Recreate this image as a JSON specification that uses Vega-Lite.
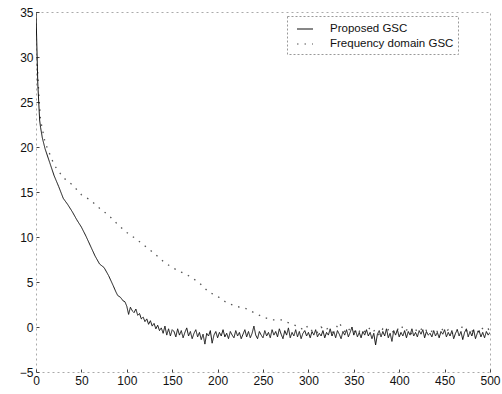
{
  "$schema": "https://vega.github.io/schema/vega-lite/v6.json",
  "width": 454,
  "height": 360,
  "autosize": "none",
  "padding": {"left": 36, "top": 12, "right": 12, "bottom": 22},
  "background": "white",
  "config": {
    "font": "Liberation Sans",
    "view": {"stroke": "#aaaaaa", "strokeDash": [2, 3], "strokeWidth": 1},
    "axis": {"grid": false, "domain": false, "labelFont": "Liberation Sans", "labelFontSize": 12, "labelColor": "#111", "tickColor": "#444", "title": null},
    "legend": {"strokeDash": [2, 2], "strokeColor": "#999999"}
  },
  "datasets": {
    "prop": [
      {"x":0,"y":35},{"x":1,"y":31},{"x":2,"y":27},{"x":3,"y":25},{"x":4,"y":23},{"x":5,"y":22.2},{"x":7,"y":21},{"x":10,"y":19.8},{"x":15,"y":18.3},{"x":20,"y":16.8},{"x":25,"y":15.6},{"x":30,"y":14.3},{"x":35,"y":13.6},{"x":40,"y":12.8},{"x":45,"y":11.9},{"x":50,"y":11.1},{"x":55,"y":10.1},{"x":60,"y":9.0},{"x":65,"y":7.9},{"x":70,"y":7.0},{"x":75,"y":6.6},{"x":80,"y":5.7},{"x":85,"y":4.6},{"x":88,"y":3.9},{"x":90,"y":3.5},{"x":93,"y":3.3},{"x":96,"y":2.9},{"x":98,"y":2.8},{"x":100,"y":2.3},{"x":102,"y":1.4},{"x":104,"y":2.2},{"x":106,"y":1.8},{"x":108,"y":1.6},{"x":110,"y":2.0},{"x":112,"y":1.3},{"x":114,"y":1.5},{"x":116,"y":0.9},{"x":118,"y":1.1},{"x":120,"y":0.6},{"x":122,"y":0.9},{"x":124,"y":0.3},{"x":126,"y":0.7},{"x":128,"y":0.1},{"x":130,"y":0.4},{"x":132,"y":-0.2},{"x":134,"y":0.2},{"x":136,"y":-0.4},{"x":138,"y":-0.1},{"x":140,"y":-0.7},{"x":142,"y":0.1},{"x":144,"y":-0.9},{"x":146,"y":-0.2},{"x":148,"y":-1.0},{"x":150,"y":-0.3},
      {"x":152,"y":-0.5},{"x":154,"y":-1.1},{"x":156,"y":-0.2},{"x":158,"y":-0.9},{"x":160,"y":-0.4},{"x":162,"y":-1.2},{"x":164,"y":-0.6},{"x":166,"y":-0.1},{"x":168,"y":-1.0},{"x":170,"y":-0.5},{"x":172,"y":-1.3},{"x":174,"y":-0.7},{"x":176,"y":-0.3},{"x":178,"y":-1.1},{"x":180,"y":-0.6},{"x":182,"y":-1.4},{"x":184,"y":-0.8},{"x":186,"y":-1.9},{"x":188,"y":-0.7},{"x":190,"y":-1.0},{"x":192,"y":-0.4},{"x":194,"y":-1.8},{"x":196,"y":-0.9},{"x":198,"y":-0.5},{"x":200,"y":-1.2},{"x":202,"y":-0.6},{"x":204,"y":-1.0},{"x":206,"y":-0.3},{"x":208,"y":-1.1},{"x":210,"y":-0.7},{"x":212,"y":-1.3},{"x":214,"y":-0.5},{"x":216,"y":-0.9},{"x":218,"y":-1.2},{"x":220,"y":-0.4},{"x":222,"y":-1.0},{"x":224,"y":-0.6},{"x":226,"y":-1.3},{"x":228,"y":-0.8},{"x":230,"y":-0.3},{"x":232,"y":-1.1},{"x":234,"y":-0.5},{"x":236,"y":-1.2},{"x":238,"y":-0.7},{"x":240,"y":0.1},{"x":242,"y":-0.9},{"x":244,"y":-1.3},{"x":246,"y":-0.5},{"x":248,"y":-0.9},{"x":250,"y":-1.2},{"x":252,"y":-0.4},{"x":254,"y":-1.0},{"x":256,"y":-0.6},{"x":258,"y":-1.2},{"x":260,"y":-0.3},{"x":262,"y":-0.9},{"x":264,"y":-0.5},{"x":266,"y":-1.1},{"x":268,"y":-0.2},{"x":270,"y":-0.8},{"x":272,"y":-1.3},{"x":274,"y":-0.4},{"x":276,"y":-0.9},{"x":278,"y":-0.1},{"x":280,"y":-1.2},{"x":282,"y":-0.6},{"x":284,"y":-1.0},{"x":286,"y":-0.3},{"x":288,"y":-1.1},{"x":290,"y":-0.5},{"x":292,"y":-1.3},{"x":294,"y":-0.7},{"x":296,"y":-0.4},{"x":298,"y":-1.0},{"x":300,"y":-0.6},{"x":302,"y":-1.2},{"x":304,"y":-0.5},{"x":306,"y":-0.9},{"x":308,"y":-0.3},{"x":310,"y":-1.1},{"x":312,"y":-0.7},{"x":314,"y":-1.0},{"x":316,"y":-0.4},{"x":318,"y":-1.2},{"x":320,"y":-0.6},{"x":322,"y":-0.9},{"x":324,"y":-0.2},{"x":326,"y":-1.0},{"x":328,"y":-0.5},{"x":330,"y":-1.2},{"x":332,"y":-0.4},{"x":334,"y":-0.8},{"x":336,"y":-1.3},{"x":338,"y":-0.5},{"x":340,"y":-0.9},{"x":342,"y":-0.3},{"x":344,"y":-1.1},{"x":346,"y":-0.6},{"x":348,"y":0.0},{"x":350,"y":-0.9},{"x":352,"y":-0.4},{"x":354,"y":-1.1},{"x":356,"y":-0.6},{"x":358,"y":-1.2},{"x":360,"y":-0.5},{"x":362,"y":-0.9},{"x":364,"y":-0.3},{"x":366,"y":-1.0},{"x":368,"y":-0.6},{"x":370,"y":-1.3},{"x":372,"y":-0.7},{"x":374,"y":-2.0},{"x":376,"y":-0.8},{"x":378,"y":-0.4},{"x":380,"y":-1.1},{"x":382,"y":-0.5},{"x":384,"y":-1.0},{"x":386,"y":-0.2},{"x":388,"y":-1.2},{"x":390,"y":-0.7},{"x":392,"y":-1.6},{"x":394,"y":-0.4},{"x":396,"y":-0.9},{"x":398,"y":-0.3},{"x":400,"y":-1.1},{"x":402,"y":-0.6},{"x":404,"y":-1.0},{"x":406,"y":-0.4},{"x":408,"y":-1.2},{"x":410,"y":-0.5},{"x":412,"y":-0.9},{"x":414,"y":-0.2},{"x":416,"y":-1.0},{"x":418,"y":-0.6},{"x":420,"y":-1.1},{"x":422,"y":-0.4},{"x":424,"y":-0.8},{"x":426,"y":-0.3},{"x":428,"y":-1.2},{"x":430,"y":-0.5},{"x":432,"y":-0.9},{"x":434,"y":-0.7},{"x":436,"y":-1.1},{"x":438,"y":-0.4},{"x":440,"y":-1.0},{"x":442,"y":-0.6},{"x":444,"y":-1.2},{"x":446,"y":-0.5},{"x":448,"y":-0.8},{"x":450,"y":-0.3},{"x":452,"y":-1.1},{"x":454,"y":-0.6},{"x":456,"y":-1.0},{"x":458,"y":-0.4},{"x":460,"y":-1.3},{"x":462,"y":-0.7},{"x":464,"y":-0.3},{"x":466,"y":-1.0},{"x":468,"y":-0.5},{"x":470,"y":-1.4},{"x":472,"y":-0.6},{"x":474,"y":-0.2},{"x":476,"y":-1.1},{"x":478,"y":-0.5},{"x":480,"y":-1.0},{"x":482,"y":-0.3},{"x":484,"y":-1.3},{"x":486,"y":-0.7},{"x":488,"y":-0.4},{"x":490,"y":-1.1},{"x":492,"y":-0.6},{"x":494,"y":-1.2},{"x":496,"y":-0.5},{"x":498,"y":-0.9},{"x":500,"y":-0.6}
    ],
    "freq": [
      {"x":1,"y":30},{"x":3,"y":26},{"x":5,"y":23},{"x":10,"y":20.5},{"x":20,"y":18.0},{"x":30,"y":16.6},{"x":40,"y":15.8},{"x":50,"y":14.7},{"x":60,"y":14.1},{"x":70,"y":13.2},{"x":80,"y":12.4},{"x":90,"y":11.4},{"x":100,"y":10.5},{"x":110,"y":9.8},{"x":120,"y":9.0},{"x":130,"y":8.2},{"x":140,"y":7.3},{"x":150,"y":6.6},{"x":160,"y":6.1},{"x":170,"y":5.6},{"x":180,"y":4.9},{"x":190,"y":3.9},{"x":200,"y":3.4},{"x":210,"y":2.7},{"x":220,"y":2.3},{"x":230,"y":2.1},{"x":240,"y":1.6},{"x":250,"y":1.1},{"x":260,"y":0.8},{"x":270,"y":0.8},{"x":280,"y":0.4},
      {"x":290,"y":0.0},{"x":294,"y":-0.3},{"x":298,"y":0.1},{"x":302,"y":-0.5},{"x":306,"y":-0.2},{"x":310,"y":-0.6},{"x":314,"y":0.0},{"x":318,"y":-0.4},{"x":322,"y":-0.1},{"x":326,"y":-0.6},{"x":330,"y":-0.2},{"x":334,"y":0.5},{"x":338,"y":-0.3},{"x":342,"y":-0.7},{"x":346,"y":-0.1},{"x":350,"y":-0.4},{"x":354,"y":-0.8},{"x":358,"y":-0.2},{"x":362,"y":-0.5},{"x":366,"y":0.0},{"x":370,"y":-0.6},{"x":374,"y":-0.3},{"x":378,"y":-0.9},{"x":382,"y":-0.2},{"x":386,"y":-0.5},{"x":390,"y":-0.1},{"x":394,"y":-0.7},{"x":398,"y":-0.3},{"x":402,"y":0.2},{"x":406,"y":-0.5},{"x":410,"y":-0.2},{"x":414,"y":-0.8},{"x":418,"y":-0.3},{"x":422,"y":-0.6},{"x":426,"y":0.0},{"x":430,"y":-0.4},{"x":434,"y":-0.7},{"x":438,"y":-0.2},{"x":442,"y":-0.5},{"x":446,"y":-0.1},{"x":450,"y":-0.6},{"x":454,"y":-0.3},{"x":458,"y":-0.8},{"x":462,"y":-0.2},{"x":466,"y":-0.5},{"x":470,"y":0.1},{"x":474,"y":-0.4},{"x":478,"y":-0.7},{"x":482,"y":-0.3},{"x":486,"y":-0.6},{"x":490,"y":0.0},{"x":494,"y":-0.4},{"x":498,"y":-0.2},{"x":500,"y":-0.5}
    ]
  },
  "layer": [
    {
      "data": {"name": "freq"},
      "transform": [{"calculate": "'Frequency domain GSC'", "as": "s"}],
      "mark": {"type": "line", "strokeWidth": 1.3, "clip": true},
      "encoding": {
        "x": {"field": "x", "type": "quantitative", "scale": {"domain": [0, 500], "nice": false},
              "axis": {"values": [0,50,100,150,200,250,300,350,400,450,500], "tickSize": -3, "labelPadding": 6, "labelFlush": false}},
        "y": {"field": "y", "type": "quantitative", "scale": {"domain": [-5, 35], "nice": false},
              "axis": {"values": [-5,0,5,10,15,20,25,30,35], "tickSize": -3, "labelPadding": 6}},
        "color": {"field": "s", "type": "nominal", "sort": ["Proposed GSC", "Frequency domain GSC"],
                  "scale": {"domain": ["Proposed GSC", "Frequency domain GSC"], "range": ["#111111", "#555555"]},
                  "legend": {"title": null, "orient": "none", "legendX": 251, "legendY": 4, "labelFontSize": 11.5, "labelFont": "Liberation Sans", "labelColor": "#111", "symbolType": "stroke", "symbolSize": 256, "symbolStrokeWidth": 1.2, "rowPadding": 0, "padding": 4, "symbolOffset": 5, "labelOffset": 16}},
        "strokeDash": {"field": "s", "type": "nominal", "sort": ["Proposed GSC", "Frequency domain GSC"],
                       "scale": {"domain": ["Proposed GSC", "Frequency domain GSC"], "range": [[1, 0], [1.5, 6]]},
                       "legend": {"title": null, "orient": "none", "legendX": 251, "legendY": 4}}
      }
    },
    {
      "data": {"name": "prop"},
      "transform": [{"calculate": "'Proposed GSC'", "as": "s"}],
      "mark": {"type": "line", "strokeWidth": 1, "clip": true},
      "encoding": {
        "x": {"field": "x", "type": "quantitative"},
        "y": {"field": "y", "type": "quantitative"},
        "color": {"field": "s", "type": "nominal"},
        "strokeDash": {"field": "s", "type": "nominal"}
      }
    }
  ]
}
